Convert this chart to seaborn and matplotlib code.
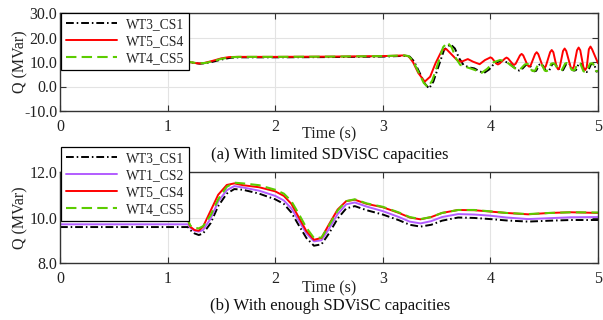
import numpy as np
import pandas as pd
import matplotlib
matplotlib.use("Agg")
import matplotlib.pyplot as plt
import seaborn as sns

# ---------------- data: (a) limited SDViSC capacities ----------------
t_a_cs1 = [0, 1.20, 1.25, 1.30, 1.35, 1.42, 1.50, 1.58, 1.66, 2.00, 2.50, 3.00, 3.20, 3.25, 3.29, 3.34,
           3.39, 3.43, 3.47, 3.52, 3.57, 3.63, 3.67, 3.71, 3.75, 3.80, 3.85, 3.90, 3.94, 3.99, 4.04, 4.10,
           4.16, 4.22, 4.255, 4.27, 4.285, 4.33, 4.35, 4.365, 4.395, 4.41, 4.425, 4.455, 4.47, 4.485,
           4.515, 4.53, 4.545, 4.575, 4.59, 4.605, 4.645, 4.66, 4.675, 4.705, 4.72, 4.735, 4.765, 4.78,
           4.795, 4.82, 4.83, 4.845, 4.875, 4.89, 4.905, 4.935, 4.95, 4.965, 4.985, 5.0]
q_a_cs1 = [10.0, 10.0, 9.6, 9.3, 9.5, 10.1, 11.0, 11.7, 11.9, 11.9, 12.0, 12.2, 12.5, 12.2, 10.3, 5.8,
           1.2, -0.8, 2.0, 8.5, 15.0, 17.2, 15.5, 11.5, 8.8, 7.8, 7.4, 6.2, 5.5, 7.0, 9.6, 10.5,
           9.8, 7.8, 6.7, 6.5, 6.7, 8.8, 9.0, 8.8, 6.4, 6.2, 6.4, 8.9, 9.1, 8.9,
           6.4, 6.2, 6.4, 9.1, 9.3, 9.1, 6.7, 6.5, 6.7, 9.2, 9.4, 9.2, 6.7, 6.5,
           6.7, 9.2, 9.4, 9.2, 6.1, 5.9, 6.1, 9.1, 9.3, 9.1, 6.1, 6.3]

t_a_cs4 = [0, 1.20, 1.25, 1.29, 1.34, 1.42, 1.50, 1.57, 1.64, 2.00, 2.50, 3.00, 3.20, 3.24, 3.28, 3.33,
           3.39, 3.44, 3.49, 3.55, 3.59, 3.63, 3.69, 3.73, 3.79, 3.84, 3.90, 3.95,
           3.985, 4.00, 4.015, 4.055, 4.07, 4.085, 4.135, 4.15, 4.165, 4.205, 4.22, 4.235,
           4.275, 4.29, 4.305, 4.345, 4.36, 4.375, 4.415, 4.43, 4.445, 4.485, 4.50, 4.515,
           4.555, 4.57, 4.585, 4.615, 4.63, 4.645, 4.675, 4.69, 4.705, 4.745, 4.76, 4.775,
           4.805, 4.82, 4.835, 4.865, 4.88, 4.895, 4.915, 4.93, 4.945, 5.0]
q_a_cs4 = [10.0, 10.0, 9.6, 9.4, 9.6, 10.5, 11.5, 12.0, 12.1, 12.1, 12.2, 12.4, 12.7, 12.3, 10.0, 5.5,
           2.0, 4.0, 9.5, 14.8, 15.3, 13.5, 10.8, 10.1, 11.2, 10.1, 9.1, 10.8,
           11.55, 11.9, 11.55, 9.35, 9.0, 9.35, 11.4, 11.8, 11.4, 9.3, 8.8, 9.3,
           12.7, 13.3, 12.7, 8.7, 8.1, 8.7, 13.2, 14.0, 13.2, 8.3, 7.4, 8.3,
           14.0, 14.9, 14.0, 8.0, 7.0, 8.0, 14.5, 15.5, 14.5, 8.0, 7.0, 8.0,
           14.8, 15.9, 14.8, 7.8, 6.7, 7.8, 15.2, 16.3, 15.2, 9.5]

t_a_cs5 = [0, 1.20, 1.25, 1.30, 1.35, 1.42, 1.50, 1.58, 1.66, 2.00, 2.50, 3.00, 3.20, 3.24, 3.28, 3.33,
           3.38, 3.42, 3.46, 3.51, 3.56, 3.60, 3.64, 3.68, 3.72, 3.77, 3.82, 3.87, 3.92, 3.97, 4.03,
           4.09, 4.15, 4.21, 4.245, 4.26, 4.275, 4.32, 4.34, 4.355, 4.385, 4.40, 4.415, 4.445, 4.46,
           4.475, 4.505, 4.52, 4.535, 4.565, 4.58, 4.595, 4.635, 4.65, 4.665, 4.695, 4.71, 4.725,
           4.755, 4.77, 4.785, 4.81, 4.82, 4.835, 4.865, 4.88, 4.895, 4.925, 4.94, 4.955, 4.98,
           4.99, 5.0]
q_a_cs5 = [10.0, 10.0, 9.7, 9.5, 9.6, 10.3, 11.3, 11.9, 12.1, 12.1, 12.2, 12.4, 12.7, 12.4, 10.5, 6.0,
           1.5, -0.3, 2.5, 9.0, 16.0, 18.0, 16.0, 11.5, 8.8, 8.0, 7.3, 6.5, 5.6, 7.2, 9.9,
           10.8, 10.0, 8.0, 6.9, 6.7, 6.9, 9.0, 9.2, 9.0, 6.5, 6.3, 6.5, 9.1, 9.3,
           9.1, 6.5, 6.3, 6.5, 9.3, 9.5, 9.3, 6.8, 6.6, 6.8, 9.4, 9.6, 9.4,
           6.8, 6.6, 6.8, 9.4, 9.6, 9.4, 6.2, 6.0, 6.2, 9.3, 9.5, 9.3, 6.4,
           6.2, 6.5]

# ---------------- data: (b) enough SDViSC capacities ----------------
t_b = [0, 1.19, 1.21, 1.25, 1.29, 1.33, 1.40, 1.47, 1.55, 1.62, 1.70, 1.85, 2.00, 2.08, 2.15, 2.22,
       2.29, 2.36, 2.43, 2.50, 2.58, 2.66, 2.74, 2.85, 3.00, 3.15, 3.25, 3.35, 3.45, 3.55, 3.70,
       3.85, 4.00, 4.15, 4.35, 4.55, 4.75, 5.0]
q_b_cs1 = [9.58, 9.58, 9.45, 9.30, 9.23, 9.30, 9.75, 10.50, 11.05, 11.25, 11.22, 11.05, 10.80, 10.60,
           10.22, 9.65, 9.10, 8.76, 8.82, 9.30, 9.95, 10.40, 10.50, 10.32, 10.13, 9.88, 9.68, 9.60,
           9.68, 9.86, 10.00, 9.98, 9.93, 9.87, 9.82, 9.86, 9.89, 9.89]
q_b_cs2 = [9.70, 9.70, 9.55, 9.42, 9.38, 9.45, 9.95, 10.70, 11.20, 11.38, 11.32, 11.18, 10.95, 10.75,
           10.40, 9.85, 9.30, 8.95, 9.00, 9.50, 10.15, 10.58, 10.66, 10.48, 10.28, 10.02, 9.82, 9.74,
           9.84, 10.02, 10.15, 10.13, 10.08, 10.00, 9.93, 9.97, 10.01, 10.02]
q_b_cs4 = [9.89, 9.89, 9.60, 9.45, 9.42, 9.60, 10.30, 11.00, 11.43, 11.50, 11.42, 11.33, 11.15, 10.95,
           10.60, 10.00, 9.40, 9.02, 9.10, 9.70, 10.35, 10.72, 10.78, 10.60, 10.45, 10.20, 10.00, 9.92,
           10.02, 10.20, 10.33, 10.32, 10.26, 10.20, 10.14, 10.20, 10.23, 10.20]
q_b_cs5 = [9.89, 9.89, 9.65, 9.55, 9.52, 9.62, 10.10, 10.80, 11.35, 11.53, 11.50, 11.42, 11.22, 11.05,
           10.72, 10.15, 9.55, 9.10, 9.12, 9.65, 10.30, 10.72, 10.80, 10.62, 10.47, 10.22, 10.02, 9.93,
           10.02, 10.20, 10.33, 10.33, 10.27, 10.20, 10.15, 10.20, 10.23, 10.22]

x_ticks = [0, 1, 2, 3, 4, 5]
y_ticks_a = [-10, 0, 10, 20, 30]
y_ticks_b = [8, 10, 12]

# ---------------- style ----------------
sns.set_theme(style="ticks")
plt.rcParams["font.family"] = ["Liberation Serif", "DejaVu Serif"]

C_BLACK = "#000000"
C_PURPLE = "#b25cff"
C_RED = "#ff0000"
C_GREEN = "#5ccc00"
DASHDOT = (4.0, 1.5, 0.8, 1.5)
DASHED = (5.0, 2.5)

fig = plt.figure(figsize=(6.03, 3.2), dpi=100)
W, H = 603.0, 320.0
ax1 = fig.add_axes([60 / W, 1 - 111 / H, 538 / W, 98 / H])
ax2 = fig.add_axes([60 / W, 1 - 263 / H, 538 / W, 91 / H])


def draw(ax, t, q, color, label, dashes=None, lw=1.4):
    df = pd.DataFrame({"t": t, "q": q})
    sns.lineplot(data=df, x="t", y="q", ax=ax, color=color, label=label, lw=lw,
                 estimator=None, sort=False)
    line = ax.lines[-1]
    if dashes is not None:
        line.set_dashes(dashes)
    return line


h1 = [draw(ax1, t_a_cs1, q_a_cs1, C_BLACK, "WT3_CS1", DASHDOT),
      draw(ax1, t_a_cs4, q_a_cs4, C_RED, "WT5_CS4"),
      draw(ax1, t_a_cs5, q_a_cs5, C_GREEN, "WT4_CS5", DASHED, lw=1.5)]

h2 = [draw(ax2, t_b, q_b_cs1, C_BLACK, "WT3_CS1", DASHDOT),
      draw(ax2, t_b, q_b_cs2, C_PURPLE, "WT1_CS2"),
      draw(ax2, t_b, q_b_cs4, C_RED, "WT5_CS4"),
      draw(ax2, t_b, q_b_cs5, C_GREEN, "WT4_CS5", DASHED, lw=1.5)]

for ax, yt, ylim in [(ax1, y_ticks_a, (-10, 30)), (ax2, y_ticks_b, (8, 12))]:
    ax.set_xlim(0, 5)
    ax.set_ylim(*ylim)
    ax.set_xticks(x_ticks)
    ax.set_xticklabels([str(v) for v in x_ticks])
    ax.set_yticks(yt)
    ax.set_yticklabels(["{:.1f}".format(v) for v in yt])
    ax.grid(True, color="#e3e3e3", lw=0.8)
    ax.set_axisbelow(True)
    ax.tick_params(direction="in", top=True, right=True, length=4, width=0.8,
                   color="#333333", labelsize=11.5, pad=2, labelcolor="#222222")
    ax.tick_params(axis="x", pad=6)
    for sp in ax.spines.values():
        sp.set_color("#333333")
        sp.set_linewidth(1.0)
    ax.set_xlabel("Time (s)", fontsize=11.5, va="center", color="#222222")
    ax.set_ylabel("Q (MVar)", fontsize=11.5, va="center", color="#222222")
    ax.get_legend().remove()

ax1.xaxis.set_label_coords(0.5, -23 / 98)
ax1.yaxis.set_label_coords(-40 / 538, 0.5)
ax2.xaxis.set_label_coords(0.5, -25 / 91)
ax2.yaxis.set_label_coords(-40 / 538, 0.5)

leg_kw = dict(loc="upper left", fontsize=9.8, frameon=True, fancybox=False, framealpha=1,
              edgecolor="#000000", handlelength=3.8, borderaxespad=0, borderpad=0.35,
              labelspacing=0.3, handletextpad=0.6)
l1 = fig.legend(handles=h1, labels=["WT3_CS1", "WT5_CS4", "WT4_CS5"],
                bbox_to_anchor=(61 / W, 1 - 13 / H), **leg_kw)
l2 = fig.legend(handles=h2, labels=["WT3_CS1", "WT1_CS2", "WT5_CS4", "WT4_CS5"],
                bbox_to_anchor=(61 / W, 1 - 147 / H), **leg_kw)
for l in (l1, l2):
    l.get_frame().set_linewidth(0.9)

fig.text(330 / W, 1 - 155 / H, "(a) With limited SDViSC capacities", ha="center", va="center",
         fontsize=12, color="#111111")
fig.text(330 / W, 1 - 306 / H, "(b) With enough SDViSC capacities", ha="center", va="center",
         fontsize=12, color="#111111")

fig.savefig("out.png", dpi=100)
